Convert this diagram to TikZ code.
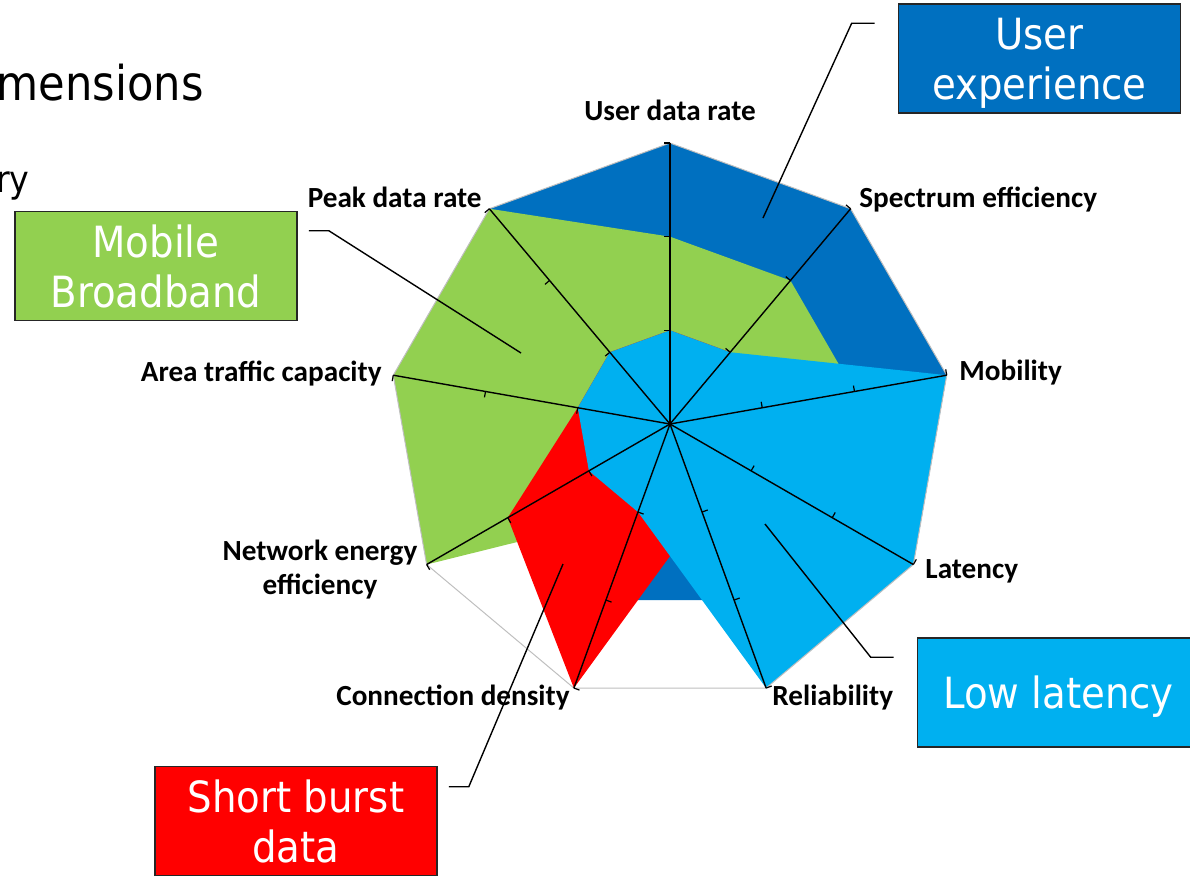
\documentclass[tikz,border=0pt]{standalone}
\usepackage{fontspec}
\setmainfont{Carlito}
\newfontfamily\slidefont{DejaVu Sans Condensed}
\definecolor{bleufonce}{HTML}{0070C0}
\definecolor{vert}{HTML}{92D050}
\definecolor{bleuclair}{HTML}{00B0F0}
\definecolor{rouge}{HTML}{FF0000}
\tikzset{
	axe/.style={black,line width=0.7pt},
	graduation/.style={black,line width=0.6pt},
	grille/.style={gray!50,line width=0.5pt},
	etiquette/.style={inner sep=0pt,font=\fontsize{14.6}{17}\selectfont\bfseries},
	boite/.style={draw=black!85,line width=0.8pt,minimum width=141pt,minimum height=54.5pt,inner sep=0pt,text depth=0pt,align=center,text=white,font=\slidefont\fontsize{21.5}{25}\selectfont},
	rappel/.style={black,line width=0.7pt}
}
\begin{document}
\begin{tikzpicture}[x=0.5pt,y=-0.5pt]
					\useasboundingbox (0,0) rectangle (1190,875);
					\clip (0,0) rectangle (1190,875);
%					Texte de la diapositive :
					\node[anchor=base east,inner sep=0pt,font=\slidefont\fontsize{24}{28}\selectfont] (titre) at (204,100) {mensions};
					\node[anchor=base east,inner sep=0pt,font=\slidefont\fontsize{18.5}{22}\selectfont] (puce) at (30,192) {ry};
					\begin{scope}[shift={(670,424)}]
%					Tracé des séries :
					\fill[bleufonce] (-90:281) -- (-50:281) -- (-10:281) -- (30:281) -- (70:187.33) -- (110:187.33) -- (150:93.67) -- (190:93.67) -- (230:281) -- cycle;
					\fill[vert] (-90:187.33) -- (-50:187.33) -- (-10:187.33) -- (30:93.67) -- (70:93.67) -- (110:93.67) -- (150:281) -- (190:281) -- (230:281) -- cycle;
					\fill[rouge] (-90:93.67) -- (-50:93.67) -- (-10:93.67) -- (30:93.67) -- (70:93.67) -- (110:281) -- (150:187.33) -- (190:93.67) -- (230:93.67) -- cycle;
					\fill[bleuclair] (-90:93.67) -- (-50:93.67) -- (-10:281) -- (30:281) -- (70:281) -- (110:93.67) -- (150:93.67) -- (190:93.67) -- (230:93.67) -- cycle;
%					Tracé de la grille :
					\draw[grille] (-90:281) -- (-50:281) -- (-10:281) -- (30:281) -- (70:281) -- (110:281) -- (150:281) -- (190:281) -- (230:281) -- cycle;
%					Tracé des axes :
					\foreach \a in {-90,-50,...,230}{
						\draw[axe] (0,0) -- (\a:281);
						\foreach \r in {93.67,187.33,281}
							\draw[graduation] (\a:\r) -- ++(\a-90:6);
					}
%					Pointes des rappels :
					\coordinate (pointeUE) at (93,-206);
					\coordinate (pointeMB) at (-149,-71);
					\coordinate (pointeLL) at (95,100);
					\coordinate (pointeSB) at (-107,140);
					\end{scope}
%					Noms des axes :
					\node[etiquette,anchor=base] (lblDebit) at (670,120) {User data rate};
					\node[etiquette,anchor=base west] (lblSpectre) at (859,207) {Spectrum efficiency};
					\node[etiquette,anchor=base west] (lblMobilite) at (959,380) {Mobility};
					\node[etiquette,anchor=base west] (lblLatence) at (925,578) {Latency};
					\node[etiquette,anchor=base west] (lblFiabilite) at (772,705) {Reliability};
					\node[etiquette,anchor=base east] (lblDensite) at (570,705) {Connection density};
					\node[etiquette,anchor=base,align=center] (lblEnergie) at (320,594) {Network energy\\efficiency};
					\node[etiquette,anchor=base east] (lblTrafic) at (382,381) {Area traffic capacity};
					\node[etiquette,anchor=base east] (lblPic) at (482,207) {Peak data rate};
%					Boîtes des usages :
					\node[boite,fill=bleufonce] (boiteUE) at (1039.5,58.5) {User\\experience};
					\node[boite,fill=vert] (boiteMB) at (156,266) {Mobile\\Broadband};
					\node[boite,fill=bleuclair] (boiteLL) at (1058.5,692.5) {Low latency};
					\node[boite,fill=rouge] (boiteSB) at (296,821) {Short burst\\data};
%					Tracé des rappels :
					\draw[rappel] ([xshift=-11.5pt,yshift=-10pt]boiteUE.north west) -- ++(-23,0) -- (pointeUE);
					\draw[rappel] ([xshift=5.5pt,yshift=-10pt]boiteMB.north east) -- ++(20,0) -- (pointeMB);
					\draw[rappel] ([xshift=-11.5pt,yshift=-10pt]boiteLL.north west) -- ++(-23,0) -- (pointeLL);
					\draw[rappel] ([xshift=5.5pt,yshift=-10.5pt]boiteSB.north east) -- ++(20,0) -- (pointeSB);
				\end{tikzpicture}
\end{document}
